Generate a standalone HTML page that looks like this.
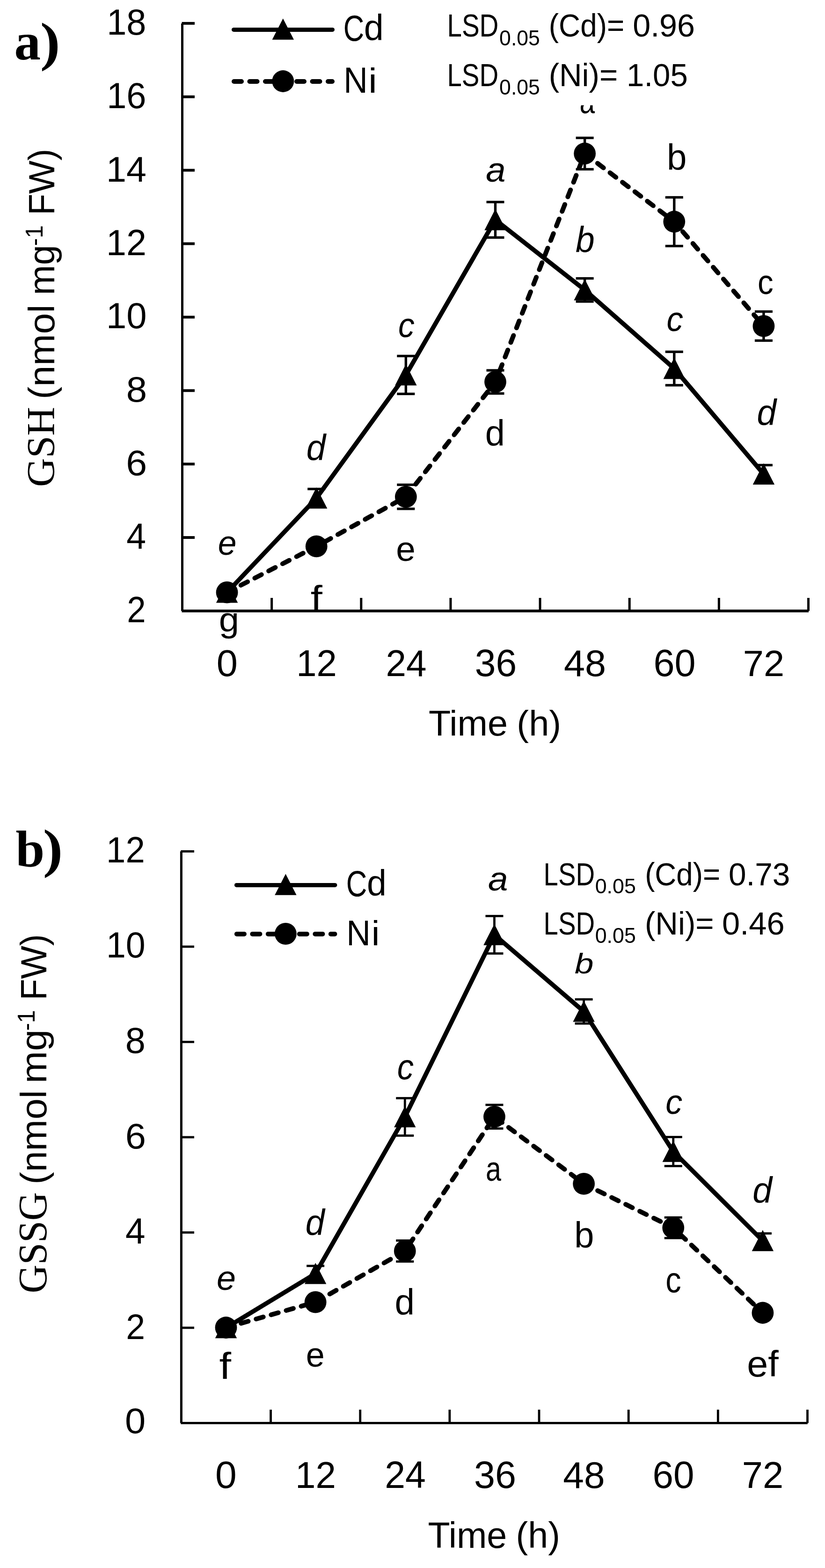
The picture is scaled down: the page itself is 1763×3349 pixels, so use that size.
<!DOCTYPE html><html><head><meta charset="utf-8"><title>GSH and GSSG</title><style>html,body{margin:0;padding:0;background:#fff}svg{display:block}</style></head><body>
<svg width="1763" height="3349" viewBox="0 0 1763 3349">
<rect width="1763" height="3349" fill="#fff"/>
<g fill="#000">
<rect x="387.00" y="50.20" width="5.00" height="1254.70"/>
<rect x="388.50" y="1301.95" width="1339.50" height="5.90"/>
<rect x="388.50" y="1145.07" width="27.50" height="5.90"/>
<rect x="388.50" y="988.19" width="27.50" height="5.90"/>
<rect x="388.50" y="831.31" width="27.50" height="5.90"/>
<rect x="388.50" y="674.43" width="27.50" height="5.90"/>
<rect x="388.50" y="517.55" width="27.50" height="5.90"/>
<rect x="388.50" y="360.67" width="27.50" height="5.90"/>
<rect x="388.50" y="203.79" width="27.50" height="5.90"/>
<rect x="388.50" y="46.91" width="27.50" height="5.90"/>
<rect x="578.14" y="1277.00" width="5.00" height="27.90"/>
<rect x="769.29" y="1277.00" width="5.00" height="27.90"/>
<rect x="960.43" y="1277.00" width="5.00" height="27.90"/>
<rect x="1151.57" y="1277.00" width="5.00" height="27.90"/>
<rect x="1342.71" y="1277.00" width="5.00" height="27.90"/>
<rect x="1533.86" y="1277.00" width="5.00" height="27.90"/>
<rect x="1725.00" y="1277.00" width="5.00" height="27.90"/>
<rect x="384.90" y="1818.40" width="5.00" height="1221.00"/>
<rect x="386.40" y="3036.97" width="1339.40" height="4.85"/>
<rect x="386.40" y="2833.50" width="28.60" height="4.80"/>
<rect x="386.40" y="2630.00" width="28.60" height="4.80"/>
<rect x="386.40" y="2426.50" width="28.60" height="4.80"/>
<rect x="386.40" y="2223.00" width="28.60" height="4.80"/>
<rect x="386.40" y="2019.50" width="28.60" height="4.80"/>
<rect x="386.40" y="1816.00" width="28.60" height="4.80"/>
<rect x="576.16" y="3010.80" width="4.80" height="28.60"/>
<rect x="767.31" y="3010.80" width="4.80" height="28.60"/>
<rect x="958.47" y="3010.80" width="4.80" height="28.60"/>
<rect x="1149.63" y="3010.80" width="4.80" height="28.60"/>
<rect x="1340.79" y="3010.80" width="4.80" height="28.60"/>
<rect x="1531.94" y="3010.80" width="4.80" height="28.60"/>
<rect x="1723.10" y="3010.80" width="4.80" height="28.60"/>
<path fill="none" stroke="#000" stroke-width="9.5" stroke-linejoin="round" stroke-linecap="round" d="M485.07 1265.30 L676.21 1063.90 L867.36 800.85 L1058.50 469.40 L1249.64 619.30 L1440.79 787.10 L1631.93 1012.60"/>
<path fill="none" stroke="#000" stroke-width="10" stroke-linejoin="round" stroke-linecap="round" stroke-dasharray="16 17.4" d="M485.07 1265.20 L676.21 1166.90 L867.36 1061.10 L1058.50 815.70 L1249.64 328.00 L1440.79 473.50 L1631.93 696.45"/>

<rect x="673.51" y="1044.40" width="5.40" height="39.00"/><rect x="657.21" y="1041.75" width="38.00" height="5.30"/><rect x="657.21" y="1080.75" width="38.00" height="5.30"/>
<rect x="864.66" y="760.40" width="5.40" height="80.90"/><rect x="848.36" y="757.75" width="38.00" height="5.30"/><rect x="848.36" y="838.65" width="38.00" height="5.30"/>
<rect x="1055.80" y="431.50" width="5.40" height="75.80"/><rect x="1039.50" y="428.85" width="38.00" height="5.30"/><rect x="1039.50" y="504.65" width="38.00" height="5.30"/>
<rect x="1246.94" y="594.60" width="5.40" height="49.40"/><rect x="1230.64" y="591.95" width="38.00" height="5.30"/><rect x="1230.64" y="641.35" width="38.00" height="5.30"/>
<rect x="1438.09" y="751.40" width="5.40" height="71.40"/><rect x="1421.79" y="748.75" width="38.00" height="5.30"/><rect x="1421.79" y="820.15" width="38.00" height="5.30"/>
<rect x="1629.23" y="993.40" width="5.40" height="38.40"/><rect x="1612.93" y="990.75" width="38.00" height="5.30"/><rect x="1612.93" y="1029.15" width="38.00" height="5.30"/>


<rect x="864.66" y="1035.40" width="5.40" height="51.40"/><rect x="848.36" y="1032.75" width="38.00" height="5.30"/><rect x="848.36" y="1084.15" width="38.00" height="5.30"/>
<rect x="1055.80" y="791.00" width="5.40" height="49.40"/><rect x="1039.50" y="788.35" width="38.00" height="5.30"/><rect x="1039.50" y="837.75" width="38.00" height="5.30"/>
<rect x="1246.94" y="294.50" width="5.40" height="67.00"/><rect x="1230.64" y="291.85" width="38.00" height="5.30"/><rect x="1230.64" y="358.85" width="38.00" height="5.30"/>
<rect x="1438.09" y="421.50" width="5.40" height="104.00"/><rect x="1421.79" y="418.85" width="38.00" height="5.30"/><rect x="1421.79" y="522.85" width="38.00" height="5.30"/>
<rect x="1629.23" y="665.45" width="5.40" height="62.00"/><rect x="1612.93" y="662.80" width="38.00" height="5.30"/><rect x="1612.93" y="724.80" width="38.00" height="5.30"/>
<path d="M485.07 1242.30 L508.27 1287.60 L461.87 1287.60 Z"/>
<path d="M676.21 1040.90 L699.41 1086.20 L653.01 1086.20 Z"/>
<path d="M867.36 777.85 L890.56 823.15 L844.16 823.15 Z"/>
<path d="M1058.50 446.40 L1081.70 491.70 L1035.30 491.70 Z"/>
<path d="M1249.64 596.30 L1272.84 641.60 L1226.44 641.60 Z"/>
<path d="M1440.79 764.10 L1463.99 809.40 L1417.59 809.40 Z"/>
<path d="M1631.93 989.60 L1655.13 1034.90 L1608.73 1034.90 Z"/>
<circle cx="485.07" cy="1265.20" r="23.4"/>
<circle cx="676.21" cy="1166.90" r="23.4"/>
<circle cx="867.36" cy="1061.10" r="23.4"/>
<circle cx="1058.50" cy="815.70" r="23.4"/>
<circle cx="1249.64" cy="328.00" r="23.4"/>
<circle cx="1440.79" cy="473.50" r="23.4"/>
<circle cx="1631.93" cy="696.45" r="23.4"/>
<path fill="none" stroke="#000" stroke-width="9.5" stroke-linejoin="round" stroke-linecap="round" d="M482.98 2836.00 L674.14 2720.20 L865.29 2385.50 L1056.45 1996.50 L1247.61 2160.30 L1438.76 2459.50 L1629.92 2650.00"/>
<path fill="none" stroke="#000" stroke-width="10" stroke-linejoin="round" stroke-linecap="round" stroke-dasharray="16 17.4" d="M482.98 2835.50 L674.14 2781.20 L865.29 2672.00 L1056.45 2385.10 L1247.61 2528.40 L1438.76 2622.30 L1629.92 2804.00"/>

<rect x="671.74" y="2703.80" width="4.80" height="32.80"/><rect x="655.14" y="2701.40" width="38.00" height="4.80"/><rect x="655.14" y="2734.20" width="38.00" height="4.80"/>
<rect x="862.89" y="2345.50" width="4.80" height="80.00"/><rect x="846.29" y="2343.10" width="38.00" height="4.80"/><rect x="846.29" y="2423.10" width="38.00" height="4.80"/>
<rect x="1054.05" y="1956.50" width="4.80" height="80.00"/><rect x="1037.45" y="1954.10" width="38.00" height="4.80"/><rect x="1037.45" y="2034.10" width="38.00" height="4.80"/>
<rect x="1245.21" y="2134.50" width="4.80" height="51.60"/><rect x="1228.61" y="2132.10" width="38.00" height="4.80"/><rect x="1228.61" y="2183.70" width="38.00" height="4.80"/>
<rect x="1436.36" y="2428.50" width="4.80" height="62.00"/><rect x="1419.76" y="2426.10" width="38.00" height="4.80"/><rect x="1419.76" y="2488.10" width="38.00" height="4.80"/>
<rect x="1627.52" y="2634.40" width="4.80" height="31.20"/><rect x="1610.92" y="2632.00" width="38.00" height="4.80"/><rect x="1610.92" y="2663.20" width="38.00" height="4.80"/>


<rect x="862.89" y="2649.60" width="4.80" height="44.80"/><rect x="846.29" y="2647.20" width="38.00" height="4.80"/><rect x="846.29" y="2692.00" width="38.00" height="4.80"/>
<rect x="1054.05" y="2359.85" width="4.80" height="50.50"/><rect x="1037.45" y="2357.45" width="38.00" height="4.80"/><rect x="1037.45" y="2407.95" width="38.00" height="4.80"/>

<rect x="1436.36" y="2600.30" width="4.80" height="44.00"/><rect x="1419.76" y="2597.90" width="38.00" height="4.80"/><rect x="1419.76" y="2641.90" width="38.00" height="4.80"/>

<path d="M482.98 2813.00 L506.18 2858.30 L459.78 2858.30 Z"/>
<path d="M674.14 2697.20 L697.34 2742.50 L650.94 2742.50 Z"/>
<path d="M865.29 2362.50 L888.49 2407.80 L842.09 2407.80 Z"/>
<path d="M1056.45 1973.50 L1079.65 2018.80 L1033.25 2018.80 Z"/>
<path d="M1247.61 2137.30 L1270.81 2182.60 L1224.41 2182.60 Z"/>
<path d="M1438.76 2436.50 L1461.96 2481.80 L1415.56 2481.80 Z"/>
<path d="M1629.92 2627.00 L1653.12 2672.30 L1606.72 2672.30 Z"/>
<circle cx="482.98" cy="2835.50" r="23.4"/>
<circle cx="674.14" cy="2781.20" r="23.4"/>
<circle cx="865.29" cy="2672.00" r="23.4"/>
<circle cx="1056.45" cy="2385.10" r="23.4"/>
<circle cx="1247.61" cy="2528.40" r="23.4"/>
<circle cx="1438.76" cy="2622.30" r="23.4"/>
<circle cx="1629.92" cy="2804.00" r="23.4"/>
<path fill="none" stroke="#000" stroke-width="9" stroke-linejoin="round" stroke-linecap="round" d="M499.50 63.40 L710.50 63.40"/>
<path fill="none" stroke="#000" stroke-width="10" stroke-linejoin="round" stroke-linecap="round" stroke-dasharray="16 17.5" d="M500.00 174.00 L710.00 174.00"/>
<path d="M604.80 39.50 L628.00 84.80 L581.60 84.80 Z"/>
<circle cx="604.80" cy="173.50" r="23.4"/>
<path fill="none" stroke="#000" stroke-width="9" stroke-linejoin="round" stroke-linecap="round" d="M505.40 1890.40 L715.90 1890.40"/>
<path fill="none" stroke="#000" stroke-width="10" stroke-linejoin="round" stroke-linecap="round" stroke-dasharray="16 17.5" d="M505.90 1994.90 L715.40 1994.90"/>
<path d="M610.40 1866.50 L633.60 1911.80 L587.20 1911.80 Z"/>
<circle cx="610.40" cy="1994.40" r="23.4"/>
<text font-family="'Liberation Serif', serif" font-size="100" font-weight="bold" transform="translate(30.39 126.87) scale(1.1283 1.1271)" xml:space="preserve">a</text>
<text font-family="'Liberation Serif', serif" font-size="100" font-weight="bold" transform="translate(85.78 127.66) scale(1.2868 1.1479)" xml:space="preserve">)</text>
<text font-family="'Liberation Sans', sans-serif" font-size="100" transform="translate(228.14 74.12) scale(0.7581 0.7754)" xml:space="preserve">18</text>
<text font-family="'Liberation Sans', sans-serif" font-size="100" transform="translate(228.14 231.03) scale(0.7581 0.7740)" xml:space="preserve">16</text>
<text font-family="'Liberation Sans', sans-serif" font-size="100" transform="translate(227.03 387.90) scale(0.7724 0.7587)" xml:space="preserve">14</text>
<text font-family="'Liberation Sans', sans-serif" font-size="100" transform="translate(227.03 545.30) scale(0.7718 0.7779)" xml:space="preserve">12</text>
<text font-family="'Liberation Sans', sans-serif" font-size="100" transform="translate(226.98 701.42) scale(0.7786 0.7768)" xml:space="preserve">10</text>
<text font-family="'Liberation Sans', sans-serif" font-size="100" transform="translate(269.79 858.23) scale(0.7970 0.7669)" xml:space="preserve">8</text>
<text font-family="'Liberation Sans', sans-serif" font-size="100" transform="translate(269.26 1015.03) scale(0.8074 0.7669)" xml:space="preserve">6</text>
<text font-family="'Liberation Sans', sans-serif" font-size="100" transform="translate(270.35 1172.00) scale(0.7520 0.7718)" xml:space="preserve">4</text>
<text font-family="'Liberation Sans', sans-serif" font-size="100" transform="translate(271.27 1328.90) scale(0.7259 0.7693)" xml:space="preserve">2</text>
<text font-family="'Liberation Sans', sans-serif" font-size="100" transform="translate(462.75 1443.90) scale(0.8117 0.8008)" xml:space="preserve">0</text>
<text font-family="'Liberation Sans', sans-serif" font-size="100" transform="translate(633.29 1444.10) scale(0.7779 0.7980)" xml:space="preserve">12</text>
<text font-family="'Liberation Sans', sans-serif" font-size="100" transform="translate(824.39 1444.20) scale(0.7829 0.8037)" xml:space="preserve">24</text>
<text font-family="'Liberation Sans', sans-serif" font-size="100" transform="translate(1014.75 1444.49) scale(0.8039 0.8136)" xml:space="preserve">36</text>
<text font-family="'Liberation Sans', sans-serif" font-size="100" transform="translate(1205.02 1444.20) scale(0.8098 0.7994)" xml:space="preserve">48</text>
<text font-family="'Liberation Sans', sans-serif" font-size="100" transform="translate(1396.45 1444.49) scale(0.8105 0.8136)" xml:space="preserve">60</text>
<text font-family="'Liberation Sans', sans-serif" font-size="100" transform="translate(1587.77 1443.70) scale(0.7950 0.7865)" xml:space="preserve">72</text>
<text font-family="'Liberation Sans', sans-serif" font-size="100" transform="translate(916.00 1571.40) scale(0.7734 0.7660)" xml:space="preserve">Time</text>
<text font-family="'Liberation Sans', sans-serif" font-size="100" transform="translate(1104.29 1571.40) scale(0.7760 0.7660)" xml:space="preserve">(h)</text>
<text font-family="'Liberation Sans', sans-serif" font-size="100" transform="translate(733.82 87.02) scale(0.6151 0.7754)" xml:space="preserve">C</text>
<text font-family="'Liberation Sans', sans-serif" font-size="100" transform="translate(777.83 85.93) scale(0.7556 0.7725)" xml:space="preserve">d</text>
<text font-family="'Liberation Sans', sans-serif" font-size="100" transform="translate(734.25 197.90) scale(0.7133 0.7689)" xml:space="preserve">N</text>
<text font-family="'Liberation Sans', sans-serif" font-size="100" transform="translate(787.32 197.90) scale(0.8295 0.7459)" xml:space="preserve">i</text>
<text font-family="'Liberation Sans', sans-serif" font-size="100" font-style="italic" transform="translate(465.77 1185.25) scale(0.7140 0.7482)" xml:space="preserve">e</text>
<text font-family="'Liberation Sans', sans-serif" font-size="100" transform="translate(467.73 1349.35) scale(0.7778 0.7379)" xml:space="preserve">g</text>
<text font-family="'Liberation Sans', sans-serif" font-size="100" font-style="italic" transform="translate(654.68 983.22) scale(0.7409 0.7752)" xml:space="preserve">d</text>
<text font-family="'Liberation Sans', sans-serif" font-size="100" transform="translate(663.74 1303.50) scale(0.9023 0.7680)" xml:space="preserve">f</text>
<text font-family="'Liberation Sans', sans-serif" font-size="100" font-style="italic" transform="translate(850.98 720.16) scale(0.6952 0.7445)" xml:space="preserve">c</text>
<text font-family="'Liberation Sans', sans-serif" font-size="100" transform="translate(846.36 1197.67) scale(0.7468 0.7318)" xml:space="preserve">e</text>
<text font-family="'Liberation Sans', sans-serif" font-size="100" font-style="italic" transform="translate(1038.33 387.66) scale(0.7600 0.7372)" xml:space="preserve">a</text>
<text font-family="'Liberation Sans', sans-serif" font-size="100" transform="translate(1036.82 951.73) scale(0.7578 0.7698)" xml:space="preserve">d</text>
<text font-family="'Liberation Sans', sans-serif" font-size="100" font-style="italic" transform="translate(1229.88 538.62) scale(0.7305 0.7834)" xml:space="preserve">b</text>
<text font-family="'Liberation Sans', sans-serif" font-size="100" transform="translate(1238.44 242.05) scale(0.5856 0.7482)" xml:space="preserve">a</text>
<text font-family="'Liberation Sans', sans-serif" font-size="100" font-style="italic" transform="translate(1424.54 706.86) scale(0.7061 0.7409)" xml:space="preserve">c</text>
<text font-family="'Liberation Sans', sans-serif" font-size="100" transform="translate(1425.02 363.22) scale(0.7622 0.7766)" xml:space="preserve">b</text>
<text font-family="'Liberation Sans', sans-serif" font-size="100" font-style="italic" transform="translate(1617.46 908.22) scale(0.7464 0.7766)" xml:space="preserve">d</text>
<text font-family="'Liberation Sans', sans-serif" font-size="100" transform="translate(1619.07 627.96) scale(0.6736 0.7445)" xml:space="preserve">c</text>
<text font-family="'Liberation Serif', serif" font-size="100" transform="rotate(-90) translate(-1039.99 115.65) scale(0.8548 0.8467)" xml:space="preserve">GSH</text>
<text font-family="'Liberation Sans', sans-serif" font-size="100" transform="rotate(-90) translate(-852.71 116.20) scale(0.8086 0.7718)" xml:space="preserve">(nmol</text>
<text font-family="'Liberation Sans', sans-serif" font-size="100" transform="rotate(-90) translate(-630.29 116.20) scale(0.7714 0.7718)" xml:space="preserve">mg</text>
<text font-family="'Liberation Sans', sans-serif" font-size="100" transform="rotate(-90) translate(-525.29 91.00) scale(0.4987 0.5218)" xml:space="preserve">-1</text>
<text font-family="'Liberation Sans', sans-serif" font-size="100" transform="rotate(-90) translate(-459.87 116.20) scale(0.7526 0.7718)" xml:space="preserve">FW)</text>
<text font-family="'Liberation Serif', serif" font-size="100" font-weight="bold" transform="translate(33.57 1850.89) scale(1.1091 1.1080)" xml:space="preserve">b</text>
<text font-family="'Liberation Serif', serif" font-size="100" font-weight="bold" transform="translate(91.82 1851.49) scale(1.2752 1.1468)" xml:space="preserve">)</text>
<text font-family="'Liberation Sans', sans-serif" font-size="100" transform="translate(227.05 1841.80) scale(0.7434 0.7736)" xml:space="preserve">12</text>
<text font-family="'Liberation Sans', sans-serif" font-size="100" transform="translate(226.97 2044.62) scale(0.7535 0.7768)" xml:space="preserve">10</text>
<text font-family="'Liberation Sans', sans-serif" font-size="100" transform="translate(267.79 2248.52) scale(0.7756 0.7768)" xml:space="preserve">8</text>
<text font-family="'Liberation Sans', sans-serif" font-size="100" transform="translate(267.63 2452.63) scale(0.7944 0.7684)" xml:space="preserve">6</text>
<text font-family="'Liberation Sans', sans-serif" font-size="100" transform="translate(268.02 2655.80) scale(0.7659 0.7703)" xml:space="preserve">4</text>
<text font-family="'Liberation Sans', sans-serif" font-size="100" transform="translate(269.34 2859.60) scale(0.7325 0.7679)" xml:space="preserve">2</text>
<text font-family="'Liberation Sans', sans-serif" font-size="100" transform="translate(267.12 3061.23) scale(0.7950 0.7669)" xml:space="preserve">0</text>
<text font-family="'Liberation Sans', sans-serif" font-size="100" transform="translate(460.11 3178.19) scale(0.8222 0.8107)" xml:space="preserve">0</text>
<text font-family="'Liberation Sans', sans-serif" font-size="100" transform="translate(630.96 3178.00) scale(0.7809 0.7994)" xml:space="preserve">12</text>
<text font-family="'Liberation Sans', sans-serif" font-size="100" transform="translate(822.16 3178.10) scale(0.7878 0.8066)" xml:space="preserve">24</text>
<text font-family="'Liberation Sans', sans-serif" font-size="100" transform="translate(1012.92 3178.39) scale(0.8097 0.8107)" xml:space="preserve">36</text>
<text font-family="'Liberation Sans', sans-serif" font-size="100" transform="translate(1203.23 3177.90) scale(0.8031 0.7994)" xml:space="preserve">48</text>
<text font-family="'Liberation Sans', sans-serif" font-size="100" transform="translate(1394.50 3177.89) scale(0.7998 0.8065)" xml:space="preserve">60</text>
<text font-family="'Liberation Sans', sans-serif" font-size="100" transform="translate(1585.77 3177.80) scale(0.7941 0.8009)" xml:space="preserve">72</text>
<text font-family="'Liberation Sans', sans-serif" font-size="100" transform="translate(914.40 3305.90) scale(0.7729 0.7718)" xml:space="preserve">Time</text>
<text font-family="'Liberation Sans', sans-serif" font-size="100" transform="translate(1102.61 3305.90) scale(0.7723 0.7718)" xml:space="preserve">(h)</text>
<text font-family="'Liberation Sans', sans-serif" font-size="100" transform="translate(739.82 1913.93) scale(0.6167 0.7712)" xml:space="preserve">C</text>
<text font-family="'Liberation Sans', sans-serif" font-size="100" transform="translate(784.04 1913.22) scale(0.7533 0.7793)" xml:space="preserve">d</text>
<text font-family="'Liberation Sans', sans-serif" font-size="100" transform="translate(740.24 2018.70) scale(0.7151 0.7674)" xml:space="preserve">N</text>
<text font-family="'Liberation Sans', sans-serif" font-size="100" transform="translate(793.75 2018.70) scale(0.7955 0.7445)" xml:space="preserve">i</text>
<text font-family="'Liberation Sans', sans-serif" font-size="100" font-style="italic" transform="translate(462.90 2755.05) scale(0.7366 0.7464)" xml:space="preserve">e</text>
<text font-family="'Liberation Sans', sans-serif" font-size="100" transform="translate(468.52 2945.00) scale(0.9173 0.7956)" xml:space="preserve">f</text>
<text font-family="'Liberation Sans', sans-serif" font-size="100" font-style="italic" transform="translate(652.70 2638.42) scale(0.7354 0.7779)" xml:space="preserve">d</text>
<text font-family="'Liberation Sans', sans-serif" font-size="100" transform="translate(653.78 2918.75) scale(0.7191 0.7464)" xml:space="preserve">e</text>
<text font-family="'Liberation Sans', sans-serif" font-size="100" font-style="italic" transform="translate(848.64 2305.35) scale(0.7061 0.7536)" xml:space="preserve">c</text>
<text font-family="'Liberation Sans', sans-serif" font-size="100" transform="translate(843.59 2808.22) scale(0.7644 0.7766)" xml:space="preserve">d</text>
<text font-family="'Liberation Sans', sans-serif" font-size="100" font-style="italic" transform="translate(1043.02 1901.87) scale(0.7640 0.7263)" xml:space="preserve">a</text>
<text font-family="'Liberation Sans', sans-serif" font-size="100" transform="translate(1038.12 2522.26) scale(0.5914 0.7354)" xml:space="preserve">a</text>
<text font-family="'Liberation Sans', sans-serif" font-size="100" font-style="italic" transform="translate(1227.98 2079.39) scale(0.7266 0.6117)" xml:space="preserve">b</text>
<text font-family="'Liberation Sans', sans-serif" font-size="100" transform="translate(1227.25 2665.02) scale(0.7578 0.7779)" xml:space="preserve">b</text>
<text font-family="'Liberation Sans', sans-serif" font-size="100" font-style="italic" transform="translate(1422.31 2379.25) scale(0.7171 0.7500)" xml:space="preserve">c</text>
<text font-family="'Liberation Sans', sans-serif" font-size="100" transform="translate(1422.29 2760.35) scale(0.6690 0.7536)" xml:space="preserve">c</text>
<text font-family="'Liberation Sans', sans-serif" font-size="100" font-style="italic" transform="translate(1608.35 2568.52) scale(0.7500 0.7793)" xml:space="preserve">d</text>
<text font-family="'Liberation Sans', sans-serif" font-size="100" transform="translate(1596.20 2940.22) scale(0.8098 0.7779)" xml:space="preserve">ef</text>
<text font-family="'Liberation Serif', serif" font-size="100" transform="rotate(-90) translate(-2762.35 98.74) scale(0.8449 0.8571)" xml:space="preserve">GSSG</text>
<text font-family="'Liberation Sans', sans-serif" font-size="100" transform="rotate(-90) translate(-2529.80 99.20) scale(0.8061 0.7703)" xml:space="preserve">(nmol</text>
<text font-family="'Liberation Sans', sans-serif" font-size="100" transform="rotate(-90) translate(-2313.98 99.20) scale(0.8310 0.7703)" xml:space="preserve">mg</text>
<text font-family="'Liberation Sans', sans-serif" font-size="100" transform="rotate(-90) translate(-2201.59 73.80) scale(0.4987 0.5203)" xml:space="preserve">-1</text>
<text font-family="'Liberation Sans', sans-serif" font-size="100" transform="rotate(-90) translate(-2136.54 99.20) scale(0.7486 0.7703)" xml:space="preserve">FW)</text>
<rect x="950" y="0" width="545" height="224.8" fill="#fff"/>
<text font-family="'Liberation Sans', sans-serif" font-size="100" transform="translate(955.46 77.90) scale(0.5655 0.6904)" xml:space="preserve">LSD</text>
<text font-family="'Liberation Sans', sans-serif" font-size="100" transform="translate(1067.12 96.54) scale(0.4453 0.4605)" xml:space="preserve">0.05</text>
<text font-family="'Liberation Sans', sans-serif" font-size="100" transform="translate(1172.84 77.90) scale(0.6382 0.6904)" xml:space="preserve">(Cd)=</text>
<text font-family="'Liberation Sans', sans-serif" font-size="100" transform="translate(1352.17 77.90) scale(0.6826 0.6904)" xml:space="preserve">0.96</text>
<text font-family="'Liberation Sans', sans-serif" font-size="100" transform="translate(955.48 183.60) scale(0.5639 0.6890)" xml:space="preserve">LSD</text>
<text font-family="'Liberation Sans', sans-serif" font-size="100" transform="translate(1067.12 201.54) scale(0.4453 0.4605)" xml:space="preserve">0.05</text>
<text font-family="'Liberation Sans', sans-serif" font-size="100" transform="translate(1172.63 183.60) scale(0.6729 0.6890)" xml:space="preserve">(Ni)=</text>
<text font-family="'Liberation Sans', sans-serif" font-size="100" transform="translate(1339.09 183.60) scale(0.6718 0.6890)" xml:space="preserve">1.05</text>
<text font-family="'Liberation Sans', sans-serif" font-size="100" transform="translate(1161.59 1890.60) scale(0.5628 0.6875)" xml:space="preserve">LSD</text>
<text font-family="'Liberation Sans', sans-serif" font-size="100" transform="translate(1271.71 1908.25) scale(0.4474 0.4477)" xml:space="preserve">0.05</text>
<text font-family="'Liberation Sans', sans-serif" font-size="100" transform="translate(1378.15 1890.60) scale(0.6370 0.6875)" xml:space="preserve">(Cd)=</text>
<text font-family="'Liberation Sans', sans-serif" font-size="100" transform="translate(1556.90 1890.60) scale(0.6756 0.6875)" xml:space="preserve">0.73</text>
<text font-family="'Liberation Sans', sans-serif" font-size="100" transform="translate(1161.59 1995.50) scale(0.5628 0.6831)" xml:space="preserve">LSD</text>
<text font-family="'Liberation Sans', sans-serif" font-size="100" transform="translate(1271.71 2014.34) scale(0.4474 0.4562)" xml:space="preserve">0.05</text>
<text font-family="'Liberation Sans', sans-serif" font-size="100" transform="translate(1377.93 1995.50) scale(0.6729 0.6831)" xml:space="preserve">(Ni)=</text>
<text font-family="'Liberation Sans', sans-serif" font-size="100" transform="translate(1543.05 1995.50) scale(0.6864 0.6831)" xml:space="preserve">0.46</text>
</g></svg></body></html>
